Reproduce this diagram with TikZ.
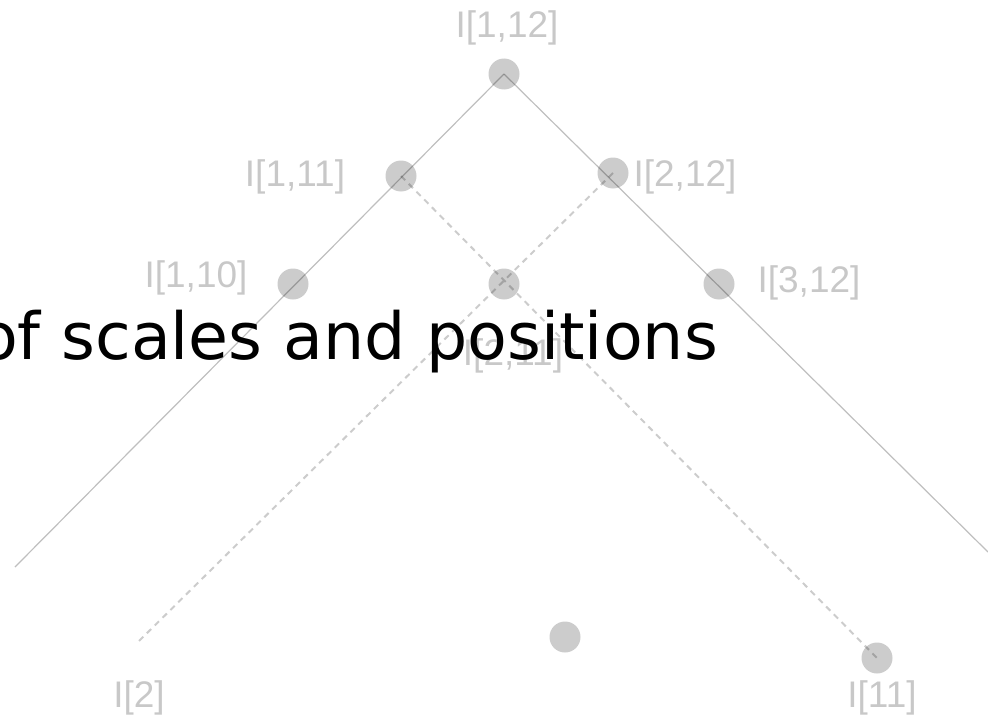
\documentclass[tikz,border=0pt]{standalone}
\usepackage{fontspec}
\setmainfont{Liberation Sans}
\newfontfamily\titlefont{DejaVu Sans}
\definecolor{dotgray}{HTML}{CCCCCC}
\definecolor{labgray}{HTML}{C8C8C8}
\tikzset{
  dot/.style={circle,fill=dotgray,minimum size=31pt,inner sep=0pt},
  lbl/.style={text=labgray,font=\fontsize{37}{37}\selectfont,inner sep=0pt},
  link/.style={draw=black,draw opacity=0.25,line width=1.2pt},
  dlink/.style={draw=black,draw opacity=0.2,line width=2pt,dash pattern=on 6pt off 5pt},
}
\begin{document}
\begin{tikzpicture}[x=1pt,y=-1pt]
\useasboundingbox (0,0) rectangle (988,717);
\clip (0,0) rectangle (988,717);
% dots
\node[dot] (n112) at (504,74) {};
\node[dot] (n111) at (401,176) {};
\node[dot] (n212) at (613,173) {};
\node[dot] (n110) at (293,284) {};
\node[dot] (n211) at (504,284) {};
\node[dot] (n312) at (719,284) {};
\node[dot] (nlow) at (565,637) {};
\node[dot] (n11) at (877,658) {};
% free ends
\coordinate (endl) at (15,567);
\coordinate (endr) at (988,552);
\coordinate (end2) at (138,642);
% lines
\draw[link] (n112.center) -- (endl);
\draw[link] (n112.center) -- (endr);
\draw[dlink] (n111.center) -- (n11.center);
\draw[dlink] (n212.center) -- (end2);
% labels
\node[lbl] (l112) at (507,28) {I[1,12]};
\node[lbl] (l111) at (295,177) {I[1,11]};
\node[lbl] (l212) at (685,177) {I[2,12]};
\node[lbl] (l110) at (196,278) {I[1,10]};
\node[lbl] (l312) at (809,283) {I[3,12]};
\node[lbl] (l211) at (513,356) {I[2,11]};
\node[lbl] (l11) at (882,698) {I[11]};
\node[lbl] (l2) at (139,698) {I[2]};
% title on top
\node[anchor=base east,inner sep=0pt,font=\titlefont\fontsize{65}{65}\selectfont] (title) at (718,359) {of scales and positions};
\end{tikzpicture}
\end{document}
